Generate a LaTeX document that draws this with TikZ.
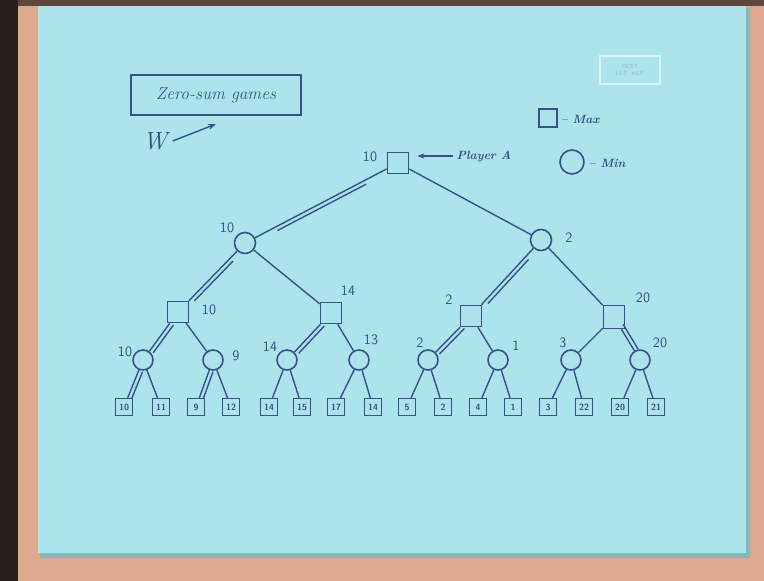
\documentclass[tikz,border=0pt]{standalone}
\usetikzlibrary{calc,arrows.meta}
\definecolor{paper}{RGB}{172,228,235}
\definecolor{inkc}{RGB}{58,80,140}
\definecolor{peach}{RGB}{222,168,140}
\definecolor{darkedge}{RGB}{40,30,28}
\definecolor{logoc}{RGB}{218,243,247}
\newcommand\dedge[2]{%
  \draw[edge] (#1) -- (#2);
  \draw[edge] ($(#1)!0.22!(#2)!4pt!90:(#2)$) -- ($(#1)!0.8!(#2)!4pt!-90:(#1)$);}
\begin{document}
\begin{tikzpicture}[x=1pt,y=-1pt,
  maxn/.style={draw=inkc, line width=1.6pt, minimum width=21pt, minimum height=21pt, inner sep=0pt},
  minn/.style={circle, draw=inkc, line width=1.6pt, minimum size=21pt, inner sep=0pt},
  leaf/.style={draw=inkc, line width=1.4pt, minimum size=17pt, inner sep=0pt, font=\sffamily\small\bfseries, text=inkc},
  lbl/.style={text=inkc, font=\sffamily\Large},
  hand/.style={text=inkc, font=\itshape\bfseries\large},
  edge/.style={draw=inkc, line width=1.4pt}]
% background
\useasboundingbox (0,0) rectangle (764,581);
\fill[peach] (0,0) rectangle (764,581);
\fill[darkedge] (0,0) rectangle (18,581);
\fill[darkedge!70!peach] (18,0) rectangle (764,6);
\fill[paper!80!black] (40,8) rectangle (750,558);
\fill[paper] (38,6) rectangle (746,553);
% logo
\node[draw=logoc, line width=1.2pt, minimum width=60pt, minimum height=28pt, font=\sffamily\fontsize{6}{7}\selectfont, text=paper!55!gray, align=center] (logo) at (630,70) {©CET\\I.I.T. KGP};
% title
\node[draw=inkc, line width=1.6pt, minimum width=170pt, minimum height=40pt, font=\itshape\LARGE, text=inkc] (title) at (216,95) {Zero-sum games};
\node[text=inkc, font=\itshape\Huge] (w) at (155,141) {W};
\coordinate (wtip) at (216,124);
\draw[edge, -{Stealth[length=8pt]}] (w.east) ++(2,0) -- (wtip);
% legend
\node[maxn, minimum width=18pt, minimum height=18pt] (lmax) at (548,118) {};
\node[hand, anchor=west] (lmaxt) at (557,119) {-- Max};
\node[minn, minimum size=24pt] (lmin) at (572,162) {};
\node[hand, anchor=west] (lmint) at (585,163) {-- Min};
% root
\node[maxn] (r) at (398,163) {};
\node[lbl] at (370,157) {10};
\node[hand] (pa) at (484,156) {Player A};
\draw[edge, -{Stealth[length=7pt]}] (pa.west) -- ([xshift=8pt]r.east |- pa.west);
% level 1 (min)
\node[minn] (m1) at (245,243) {};
\node[minn] (m2) at (541,240) {};
\node[lbl] at (227,228) {10};
\node[lbl] at (569,238) {2};
% level 2 (max)
\node[maxn] (a1) at (178,312) {};
\node[maxn] (a2) at (331,313) {};
\node[maxn] (a3) at (471,316) {};
\node[maxn, minimum height=23pt] (a4) at (614,317) {};
\node[lbl] at (209,310) {10};
\node[lbl] at (348,291) {14};
\node[lbl] at (449,300) {2};
\node[lbl] at (643,298) {20};
% level 3 (min)
\foreach \i/\x in {1/143,2/213,3/287,4/359,5/428,6/498,7/571,8/640}
  \node[minn, minimum size=20pt] (c\i) at (\x,360) {};
\node[lbl] at (125,352) {10};
\node[lbl] at (236,356) {9};
\node[lbl] at (270,347) {14};
\node[lbl] at (371,340) {13};
\node[lbl] at (420,343) {2};
\node[lbl] at (516,346) {1};
\node[lbl] at (563,343) {3};
\node[lbl] at (660,343) {20};
% leaves
\foreach \i/\x/\v in {1/124/10,2/161/11,3/196/9,4/231/12,5/269/14,6/302/15,7/336/17,8/373/14,
                      9/407/5,10/443/2,11/478/4,12/513/1,13/548/3,14/584/22,15/620/20,16/656/21}
  \node[leaf] (l\i) at (\x,407) {\v};
% edges
\dedge{r}{m1}
\draw[edge] (r) -- (m2);
\dedge{m1}{a1}
\draw[edge] (m1) -- (a2);
\dedge{m2}{a3}
\draw[edge] (m2) -- (a4);
\dedge{a1}{c1}
\draw[edge] (a1) -- (c2);
\dedge{a2}{c3}
\draw[edge] (a2) -- (c4);
\dedge{a3}{c5}
\draw[edge] (a3) -- (c6);
\draw[edge] (a4) -- (c7);
\dedge{a4}{c8}
\dedge{c1}{l1}
\draw[edge] (c1) -- (l2);
\dedge{c2}{l3}
\draw[edge] (c2) -- (l4);
\draw[edge] (c3) -- (l5);
\draw[edge] (c3) -- (l6);
\draw[edge] (c4) -- (l7);
\draw[edge] (c4) -- (l8);
\draw[edge] (c5) -- (l9);
\draw[edge] (c5) -- (l10);
\draw[edge] (c6) -- (l11);
\draw[edge] (c6) -- (l12);
\draw[edge] (c7) -- (l13);
\draw[edge] (c7) -- (l14);
\draw[edge] (c8) -- (l15);
\draw[edge] (c8) -- (l16);
\end{tikzpicture}
\end{document}
